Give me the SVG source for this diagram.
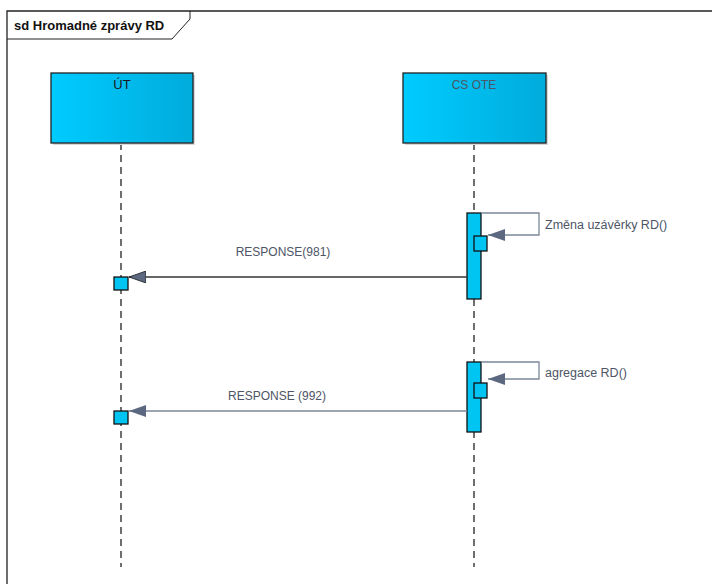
<svg xmlns="http://www.w3.org/2000/svg" width="713" height="584" viewBox="0 0 713 584">
<defs>
<linearGradient id="g" x1="0" x2="1" y1="0" y2="0"><stop offset="0" stop-color="#00cbff"/><stop offset="1" stop-color="#00acdc"/></linearGradient>
<marker id="ah" markerWidth="18" markerHeight="12" refX="17" refY="6" orient="auto" markerUnits="userSpaceOnUse"><path d="M0,0 L17,6 L0,12 Z" fill="#5c6880" stroke="#1a1a1a" stroke-width="0.8"/></marker>
<marker id="ah2" markerWidth="18" markerHeight="12" refX="17" refY="6" orient="auto" markerUnits="userSpaceOnUse"><path d="M0,0 L17,6 L0,12 Z" fill="#5c6880"/></marker>
</defs>
<style>
.t{font-family:"Liberation Sans",Arial,sans-serif;font-size:12px;fill:#4d5566}
.life{stroke:#222;stroke-width:1.3;stroke-dasharray:7 5;fill:none}
.act{fill:#00c4f2;stroke:#111;stroke-width:1.3}
.box{fill:url(#g);stroke:#222;stroke-width:1.3}
.self{fill:none;stroke:#7b8699;stroke-width:1.3}
</style>
<rect width="713" height="584" fill="#fff"/>
<g id="frame">
<path d="M7,584 L7,11 L712,11" fill="none" stroke="#222" stroke-width="1.3"/>
<path d="M7,39 L172,39 L190,19 L190,11" fill="none" stroke="#222" stroke-width="1"/>
<text x="14" y="30" font-family="'Liberation Sans',Arial,sans-serif" font-size="13" font-weight="bold" fill="#111">sd Hromadné zprávy RD</text>
</g>
<g id="lifelines">
<line class="life" x1="121" y1="143" x2="121" y2="567"/>
<line class="life" x1="474" y1="143" x2="474" y2="567"/>
</g>
<g id="UT">
<rect x="53" y="75" width="142" height="70" fill="#d8d8d8"/>
<rect class="box" x="51" y="73" width="142" height="70"/>
<text class="t" x="122" y="89" text-anchor="middle" style="fill:#1a1a1a;font-size:13px">ÚT</text>
</g>
<g id="CSOTE">
<rect x="405" y="75" width="143" height="70" fill="#d8d8d8"/>
<rect class="box" x="403" y="73" width="143" height="70"/>
<text class="t" x="474" y="89" text-anchor="middle" style="font-size:12px">CS OTE</text>
</g>
<g id="activations">
<rect class="act" x="467" y="213" width="14" height="86"/>
<rect class="act" x="467" y="362" width="14" height="70"/>
<rect class="act" x="114" y="277" width="14" height="13"/>
<rect class="act" x="114" y="411" width="14" height="13"/>
</g>
<g id="selfboxes">
<rect class="act" x="474" y="236" width="13" height="15"/>
<rect class="act" x="474" y="383" width="13" height="15"/>
</g>
<g id="connectors">
<path class="self" d="M481,213 L539,213 L539,235 L488,235" marker-end="url(#ah2)"/>
<path class="self" d="M481,362 L539,362 L539,379 L488,379" marker-end="url(#ah2)"/>
<line x1="467" y1="277" x2="129" y2="277" stroke="#333" stroke-width="1.3" marker-end="url(#ah)"/>
<line x1="467" y1="411" x2="129" y2="411" stroke="#7b8699" stroke-width="1.3" marker-end="url(#ah2)"/>
</g>
<g id="labels">
<text class="t" x="545" y="229" style="font-size:12.5px">Změna uzávěrky RD()</text>
<text class="t" x="545" y="377" style="font-size:12.5px">agregace RD()</text>
<text class="t" x="283" y="256" text-anchor="middle">RESPONSE(981)</text>
<text class="t" x="277" y="400" text-anchor="middle">RESPONSE (992)</text>
</g>
</svg>
